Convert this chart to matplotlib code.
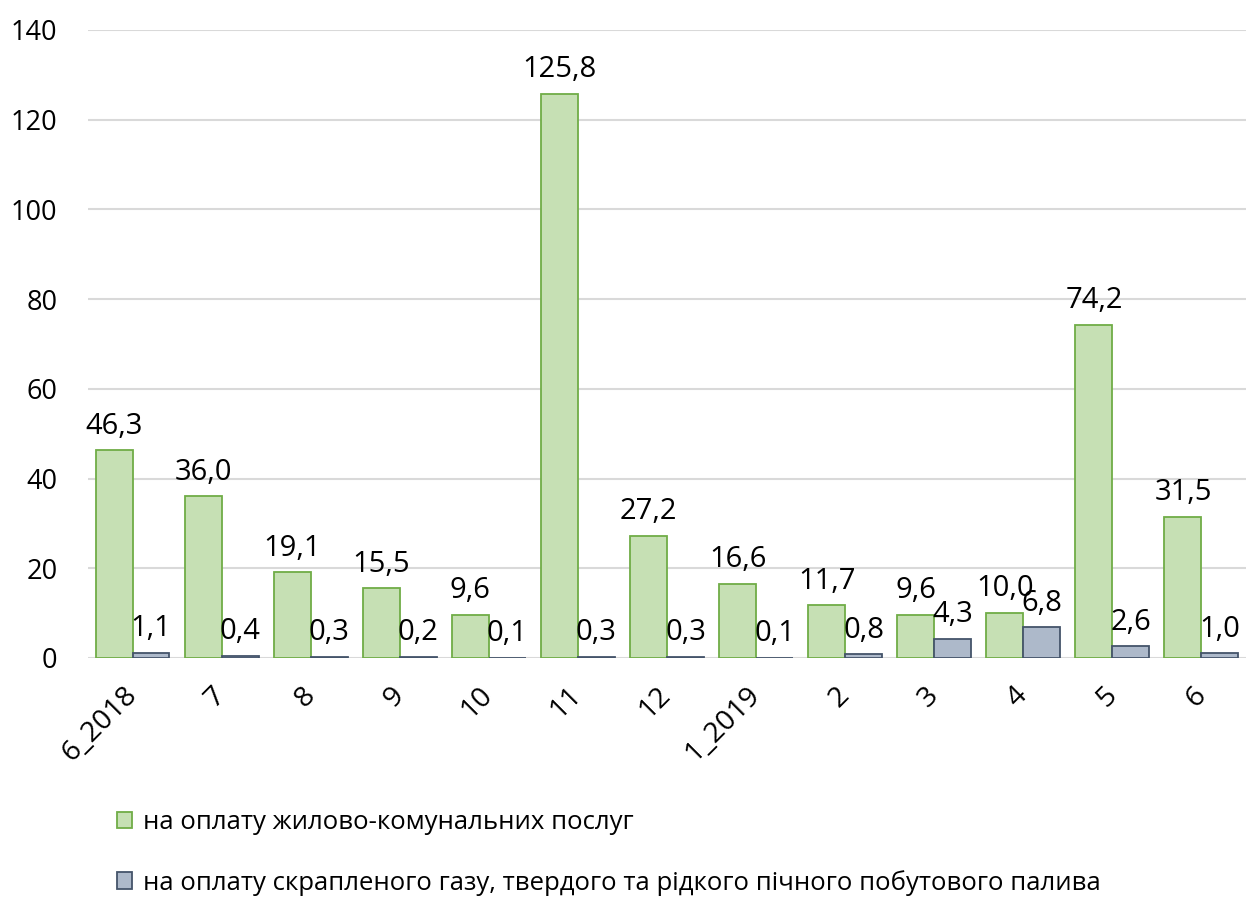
import matplotlib
matplotlib.use('Agg')
import matplotlib.pyplot as plt
import numpy as np

plt.rcParams['font.family'] = ['Open Sans', 'DejaVu Sans']

# Data
months = ['6_2018', '7', '8', '9', '10', '11', '12', '1_2019', '2', '3', '4', '5', '6']
housing = [46.3, 36.0, 19.1, 15.5, 9.6, 125.8, 27.2, 16.6, 11.7, 9.6, 10.0, 74.2, 31.5]
fuel = [1.1, 0.4, 0.3, 0.2, 0.1, 0.3, 0.3, 0.1, 0.8, 4.3, 6.8, 2.6, 1.0]
series_names = ['на оплату жилово-комунальних послуг',
                'на оплату скрапленого газу, твердого та рідкого пічного побутового палива']
y_ticks = [0, 20, 40, 60, 80, 100, 120, 140]

GREEN_FILL, GREEN_EDGE = '#C6E0B4', '#70AD47'
BLUE_FILL, BLUE_EDGE = '#ADB9CA', '#44546A'

fig = plt.figure(figsize=(12.46, 8.98), dpi=100)
ax = fig.add_axes([0.0706, 0.2673, 0.9294, 0.6993])

x = np.arange(len(months))
w = 0.415
b1 = ax.bar(x - w / 2, housing, w, color=GREEN_FILL, edgecolor=GREEN_EDGE,
            linewidth=1.3, label=series_names[0], zorder=3)
b2 = ax.bar(x + w / 2, fuel, w, color=BLUE_FILL, edgecolor=BLUE_EDGE,
            linewidth=1.3, label=series_names[1], zorder=3)

fmt = lambda vals: [f'{v:.1f}'.replace('.', ',') for v in vals]
ax.bar_label(b1, labels=fmt(housing), padding=7, fontsize=21, color='black')
ax.bar_label(b2, labels=fmt(fuel), padding=7, fontsize=21, color='black')

ax.set_xlim(-0.5, len(months) - 0.5)
ax.set_ylim(0, 140)
ax.set_yticks(y_ticks)
ax.set_yticklabels([str(t) for t in y_ticks], fontsize=19.5)
ax.set_xticks(x)
ax.set_xticklabels(months, fontsize=20.5, rotation=45, ha='right',
                   rotation_mode='anchor', va='center')
ax.tick_params(length=0)
ax.tick_params(axis='y', pad=22)
ax.tick_params(axis='x', pad=24)

ax.grid(axis='y', color='#D9D9D9', linewidth=1.5, zorder=0)
ax.set_axisbelow(True)
for s in ax.spines.values():
    s.set_visible(False)

fig.legend(handles=[b1, b2], loc='upper left', bbox_to_anchor=(0.0935, 0.098),
           frameon=False, fontsize=18.5, handlelength=0.62, handleheight=0.62,
           handletextpad=0.4, labelspacing=1.35, borderpad=0, borderaxespad=0)

fig.savefig('out.png', dpi=100, facecolor='white')
